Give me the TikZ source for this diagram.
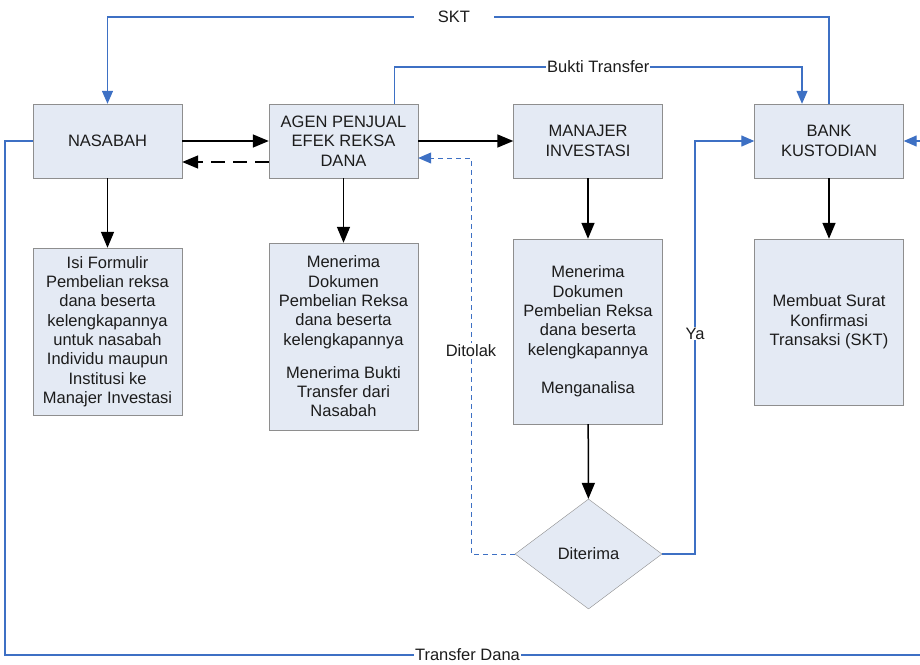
\documentclass[tikz,border=0pt]{standalone}
\usepackage{fontspec}
\setmainfont{Liberation Sans}
\usetikzlibrary{positioning,shapes.geometric,arrows.meta}
\definecolor{boxfill}{HTML}{E4EAF4}
\definecolor{boxline}{HTML}{8E8E8E}
\definecolor{flowblue}{HTML}{3D70C4}
\definecolor{ink}{HTML}{1C1C1C}

\begin{document}
\begin{tikzpicture}[x=1pt,y=-1pt,
	entity/.style={draw=boxline, fill=boxfill, text=ink, align=center,
		minimum width=149pt, minimum height=74pt, inner sep=2pt,
		font=\fontsize{16.5}{19.3}\selectfont},
	decision/.style={entity, diamond, minimum width=147pt, minimum height=110pt, inner sep=0pt},
	blackflow/.style={line width=1.5pt, -{Triangle[length=16pt,width=13pt]}},
	blueflow/.style={draw=flowblue, line width=1.3pt, -{Triangle[length=13pt,width=11pt]}},
	lbl/.style={fill=white, text=ink, inner sep=1pt, font=\fontsize{16.5}{19.3}\selectfont}]
	\useasboundingbox (0,0) rectangle (920,664);
	% main parties
	\node[entity] (nasabah) at (107.5,141) {NASABAH};
	\node[entity] (agen) at (343.5,141) {AGEN PENJUAL\\EFEK REKSA\\DANA};
	\node[entity] (manajer) at (588,141) {MANAJER\\INVESTASI};
	\node[entity] (bank) at (829,141) {BANK\\KUSTODIAN};
	% tasks
	\node[entity, minimum height=167pt] (formulir) at (107.5,331.5) {Isi Formulir\\Pembelian reksa\\dana beserta\\kelengkapannya\\untuk nasabah\\Individu maupun\\Institusi ke\\Manajer Investasi};
	\node[entity, minimum height=187pt] (dokagen) at (343.5,336.5) {Menerima\\Dokumen\\Pembelian Reksa\\dana beserta\\kelengkapannya\\[14pt]Menerima Bukti\\Transfer dari\\Nasabah};
	\node[entity, minimum height=185pt] (dokmi) at (588,331.5) {Menerima\\Dokumen\\Pembelian Reksa\\dana beserta\\kelengkapannya\\[19.3pt]Menganalisa};
	\node[entity, minimum height=166pt] (skt) at (829,322) {Membuat Surat\\Konfirmasi\\Transaksi (SKT)};
	\node[decision] (diterima) at (588.5,554) {Diterima};
	% corner points
	\coordinate (tolak) at (471,158);
	\coordinate (ya) at (695,141);
	\coordinate (atas) at (0,17);
	\coordinate (bukti) at (0,67);
	\coordinate (kiri) at (5,655);
	\coordinate (kanan) at (930,655);

	\draw[blackflow] (nasabah.east) -- (agen.west);
	\draw[blackflow, dash pattern=on 14pt off 8pt] ([yshift=-21pt]agen.west) -- ([yshift=-21pt]nasabah.east);
	\draw[blackflow] (agen.east) -- (manajer.west);
	\draw[blackflow] (nasabah) -- (formulir);
	\draw[blackflow] (agen) -- (dokagen);
	\draw[blackflow] (manajer) -- (dokmi);
	\draw[blackflow] (bank) -- (skt);
	\draw[blackflow] (dokmi) -- (diterima);

	\draw[blueflow] (bank.north) -- (bank.north |- atas) -- node[lbl, pos=.52, inner xsep=24pt]{SKT} (nasabah.north |- atas) -- (nasabah.north);
	\draw[blueflow] ([xshift=51pt]agen.north) -- ([xshift=51pt]agen.north |- bukti) -- node[lbl]{Bukti Transfer} ([xshift=-27pt]bank.north |- bukti) -- ([xshift=-27pt]bank.north);
	\draw[blueflow, line width=1pt, dash pattern=on 5pt off 4pt] (diterima.west) -| node[lbl, pos=.757]{Ditolak} (tolak) -- (tolak -| agen.east);
	\draw[blueflow] (diterima.east) -| node[lbl, pos=.767]{Ya} (ya) -- (bank.west);
	\draw[blueflow] (nasabah.west) -| (kiri) -- node[lbl]{Transfer Dana} (kanan) |- (bank.east);
\end{tikzpicture}
\end{document}
